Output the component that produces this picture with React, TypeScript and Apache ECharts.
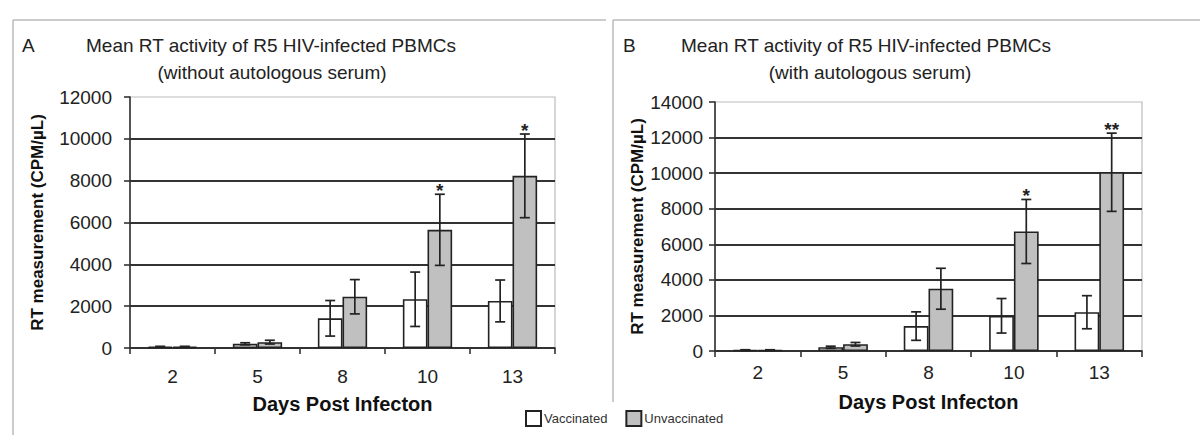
import React, { useEffect, useRef } from "react";
import * as echarts from "echarts";

const categories = ["2", "5", "8", "10", "13"];

const vaccinatedA = [60, 200, 1420, 2330, 2250];
const vaccinatedAErr = [20, 50, 850, 1300, 1000];
const unvaccinatedA = [60, 280, 2450, 5650, 8230];
const unvaccinatedAErr = [20, 90, 820, 1700, 2000];
const starsA = ["", "", "", "*", "*"];

const vaccinatedB = [50, 210, 1400, 1980, 2180];
const vaccinatedBErr = [20, 60, 800, 970, 930];
const unvaccinatedB = [50, 380, 3500, 6720, 10050];
const unvaccinatedBErr = [20, 100, 1150, 1800, 2200];
const starsB = ["", "", "", "*", "**"];

const yTicksA = { min: 0, max: 12000, interval: 2000 };
const yTicksB = { min: 0, max: 14000, interval: 2000 };

const FONT = "Arial, 'Liberation Sans', sans-serif";
const BAR_FRAC = 0.29;

function errorSeries(name: string, axisIdx: number, vals: number[], errs: number[], stars: string[], side: number) {
  return {
    type: "custom",
    name: name + "-err",
    xAxisIndex: axisIdx,
    yAxisIndex: axisIdx,
    z: 10,
    silent: true,
    data: vals.map((v, i) => [i, v, errs[i]]),
    encode: { x: 0, y: 1 },
    renderItem: (params: any, api: any) => {
      const idx = api.value(0);
      const v = api.value(1);
      const e = api.value(2);
      const star = stars[idx];
      const bw = api.size([1, 0])[0];
      const off = side * bw * BAR_FRAC / 2;
      const top = api.coord([idx, v + e]);
      const bot = api.coord([idx, Math.max(0, v - e)]);
      const cx = top[0] + off;
      const cap = 5;
      const st = { stroke: "#222", lineWidth: 1.7 };
      const children: any[] = [
        { type: "line", shape: { x1: cx, y1: top[1], x2: cx, y2: bot[1] }, style: st },
        { type: "line", shape: { x1: cx - cap, y1: top[1], x2: cx + cap, y2: top[1] }, style: st },
        { type: "line", shape: { x1: cx - cap, y1: bot[1], x2: cx + cap, y2: bot[1] }, style: st },
      ];
      if (star) {
        children.push({
          type: "text",
          style: {
            text: star,
            x: cx,
            y: top[1] + 6,
            align: "center",
            verticalAlign: "bottom",
            fontSize: 19,
            fontWeight: "bold",
            fontFamily: FONT,
            fill: "#222",
          },
        });
      }
      return { type: "group", children };
    },
  };
}

function barSeries(name: string, axisIdx: number, vals: number[], color: string) {
  return {
    type: "bar",
    name,
    xAxisIndex: axisIdx,
    yAxisIndex: axisIdx,
    data: vals,
    barWidth: (BAR_FRAC * 100) + "%",
    barGap: "0%",
    itemStyle: { color, borderColor: "#222", borderWidth: 1.6 },
  };
}

function yAxis(idx: number, ticks: any, nameGap: number, labelMargin: number) {
  return {
    type: "value",
    gridIndex: idx,
    min: ticks.min,
    max: ticks.max,
    interval: ticks.interval,
    name: "RT measurement (CPM/µL)",
    nameLocation: "middle",
    nameRotate: 90,
    nameGap,
    nameTextStyle: { fontFamily: FONT, fontWeight: "bold", fontSize: 17, color: "#111" },
    axisLine: { show: true, lineStyle: { color: "#333", width: 1.6 } },
    axisTick: { show: true, length: 6, lineStyle: { color: "#333", width: 1.6 } },
    axisLabel: { fontFamily: FONT, fontSize: 19, color: "#222", margin: labelMargin, formatter: (v: number) => String(v) },
    splitLine: { show: true, showMaxLine: false, lineStyle: { color: "#333", width: 1.8 } },
  };
}

function xAxis(idx: number, nameGap: number, labelMargin: number) {
  return {
    type: "category",
    gridIndex: idx,
    data: categories,
    name: "Days Post Infecton",
    nameLocation: "middle",
    nameGap,
    nameTextStyle: { fontFamily: FONT, fontWeight: "bold", fontSize: 20, color: "#111" },
    axisLine: { show: true, lineStyle: { color: "#333", width: 1.6 } },
    axisTick: { show: true, length: 6, alignWithLabel: false, lineStyle: { color: "#333", width: 1.6 } },
    axisLabel: { fontFamily: FONT, fontSize: 19, color: "#222", margin: labelMargin },
    splitLine: { show: false },
  };
}

export default function App() {
  const ref = useRef<HTMLDivElement>(null);
  useEffect(() => {
    if (!ref.current) return;
    const chart = echarts.init(ref.current, null, { renderer: "svg" });
    const titleStyle = { fontFamily: FONT, fontSize: 19, fill: "#222", align: "center", verticalAlign: "middle" };
    const option: any = {
      animation: false,
      backgroundColor: "#fff",
      grid: [
        { left: 130, right: 645, top: 97, bottom: 87, show: true, borderColor: "#bbb", borderWidth: 1.2, backgroundColor: "transparent" },
        { left: 715, right: 58, top: 102, bottom: 84, show: true, borderColor: "#bbb", borderWidth: 1.2, backgroundColor: "transparent" },
      ],
      xAxis: [xAxis(0, 46, 19), xAxis(1, 41, 12)],
      yAxis: [yAxis(0, yTicksA, 84, 18), yAxis(1, yTicksB, 68, 12)],
      legend: {
        left: 520,
        top: 405,
        itemWidth: 15,
        itemHeight: 15,
        itemGap: 18,
        icon: "rect",
        data: ["Vaccinated", "Unvaccinated"],
        textStyle: { fontFamily: FONT, fontSize: 13, color: "#333", padding: [0, 0, 0, -2] },
      },
      graphic: [
        { type: "line", shape: { x1: 13, y1: 20, x2: 606, y2: 20 }, style: { stroke: "#bbb", lineWidth: 1.5 } },
        { type: "line", shape: { x1: 13, y1: 20, x2: 13, y2: 435 }, style: { stroke: "#bbb", lineWidth: 1.5 } },
        { type: "line", shape: { x1: 613, y1: 20, x2: 1200, y2: 20 }, style: { stroke: "#bbb", lineWidth: 1.5 } },
        { type: "line", shape: { x1: 613, y1: 20, x2: 613, y2: 402 }, style: { stroke: "#bbb", lineWidth: 1.5 } },
        { type: "text", left: 22, top: 36, style: { text: "A", fontFamily: FONT, fontSize: 19, fill: "#222" } },
        { type: "text", left: 623, top: 36, style: { text: "B", fontFamily: FONT, fontSize: 19, fill: "#222" } },
        { type: "text", x: 271, y: 45, style: { ...titleStyle, text: "Mean RT activity of R5 HIV-infected PBMCs" } },
        { type: "text", x: 272, y: 72, style: { ...titleStyle, text: "(without autologous serum)" } },
        { type: "text", x: 866, y: 45, style: { ...titleStyle, text: "Mean RT activity of R5 HIV-infected PBMCs" } },
        { type: "text", x: 870, y: 72, style: { ...titleStyle, text: "(with autologous serum)" } },
      ],
      series: [
        barSeries("Vaccinated", 0, vaccinatedA, "#ffffff"),
        barSeries("Unvaccinated", 0, unvaccinatedA, "#c0c0c0"),
        barSeries("Vaccinated", 1, vaccinatedB, "#ffffff"),
        barSeries("Unvaccinated", 1, unvaccinatedB, "#c0c0c0"),
        errorSeries("vA", 0, vaccinatedA, vaccinatedAErr, ["", "", "", "", ""], -1),
        errorSeries("uA", 0, unvaccinatedA, unvaccinatedAErr, starsA, 1),
        errorSeries("vB", 1, vaccinatedB, vaccinatedBErr, ["", "", "", "", ""], -1),
        errorSeries("uB", 1, unvaccinatedB, unvaccinatedBErr, starsB, 1),
      ],
    };
    chart.setOption(option);
    return () => chart.dispose();
  }, []);
  return <div ref={ref} style={{ position: "fixed", left: 0, top: 0, width: 1200, height: 435 }} />;
}
